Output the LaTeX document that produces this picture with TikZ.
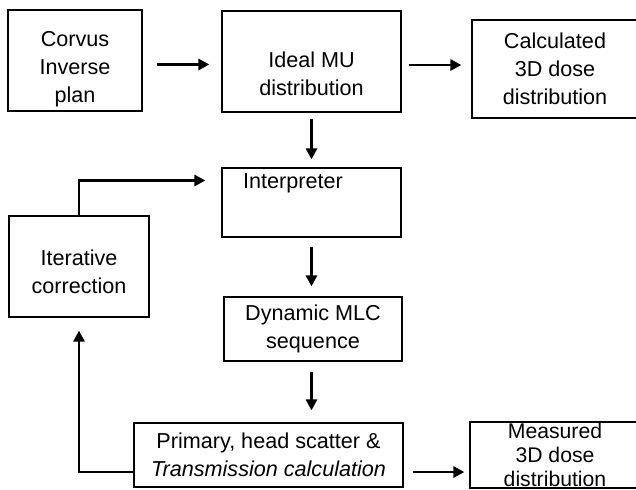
\documentclass[tikz,border=0pt]{standalone}
\usepackage{fontspec}
\setmainfont{Liberation Sans}
\usepackage{tikz}
\usetikzlibrary{arrows.meta, calc}

\begin{document}
\begin{tikzpicture}[
    x=0.5pt, y=-0.5pt,
    font=\fontsize{10.8}{14}\selectfont,
    box/.style={rectangle, draw, line width=0.6pt, align=center, inner sep=2pt},
    lbl/.style={align=center, inner sep=1pt},
    arrow/.style={-{Triangle[length=5.5pt, width=5.5pt]}, line width=1.4pt},
]
    \useasboundingbox (0,0) rectangle (636,489);

    % Top row
    \node[box, minimum width=67pt, minimum height=50.5pt] (corvus) at (75,60.5) {};
    \node[lbl] (corvuslbl) at (75,69) {Corvus\\Inverse\\plan};
    \node[box, minimum width=89.5pt, minimum height=50.5pt] (ideal) at (311.5,61.5) {};
    \node[lbl] (ideallbl) at (311.5,74) {Ideal MU\\distribution};
    \node[box, minimum width=83pt, minimum height=49pt] (calc) at (555,69) {Calculated\\3D dose\\distribution};

    % Middle column
    \node[box, minimum width=89.5pt, minimum height=34.5pt] (interp) at (311.5,202.5) {};
    \node[lbl] (interplbl) at (293,183) {Interpreter};
    \node[box, minimum width=89pt, minimum height=32pt] (dyn) at (313,329) {Dynamic MLC\\sequence};

    % Feedback
    \node[box, minimum width=70pt, minimum height=50.5pt] (iter) at (79,266.5) {};
    \node[lbl] (iterlbl) at (79,272) {Iterative\\correction};

    % Bottom row
    \node[box, minimum width=134.5pt, minimum height=32pt] (prim) at (268.5,455) {Primary, head scatter \&\\\textit{Transmission calculation}};
    \node[box, minimum width=85pt, minimum height=33pt, inner ysep=0pt, font=\fontsize{10.6}{12}\selectfont] (meas) at (555,455) {Measured\\3D dose\\distribution};

    % Arrows
    \draw[arrow, shorten <=7pt, shorten >=6pt] ([yshift=-2pt]corvus.east) -- ([yshift=-2pt]corvus.east -| ideal.west);
    \draw[arrow, shorten <=3.5pt, shorten >=5pt] ([yshift=-1.75pt]ideal.east) -- ([yshift=-1.75pt]ideal.east -| calc.west);
    \draw[arrow, shorten <=3pt, shorten >=4pt] (ideal.south) -- (interp.north);
    \draw[arrow, shorten <=4.5pt, shorten >=5pt] (interp.south) -- (interp.south |- dyn.north);
    \draw[arrow, shorten <=5pt, shorten >=6pt] (interp.south |- dyn.south) -- (interp.south |- prim.north);
    \draw[arrow, shorten <=4.5pt, shorten >=2.5pt] ([yshift=-8.5pt]prim.east) -- ([yshift=-8.5pt]prim.east -| meas.west);
    \draw[arrow, shorten >=6.5pt] ([yshift=-8.5pt]prim.west) -| (iter.south);
    \draw[arrow, shorten >=8pt] (iter.north) |- ([yshift=11pt]interp.west);

\end{tikzpicture}
\end{document}
